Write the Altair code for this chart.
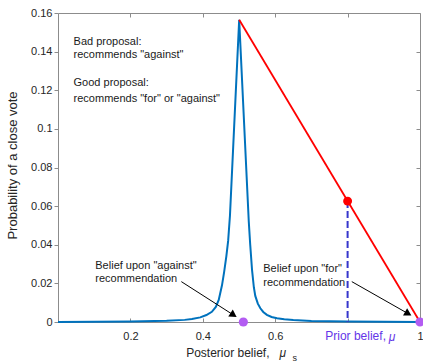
import altair as alt
import pandas as pd

# ---- data ----
mu_s = [0.0, 0.1, 0.2, 0.3, 0.35, 0.37, 0.393, 0.41, 0.425, 0.436, 0.444, 0.453,
        0.459, 0.465, 0.470, 0.475, 0.5005, 0.527, 0.531, 0.536, 0.541, 0.545,
        0.552, 0.559, 0.567, 0.577, 0.59, 0.605, 0.625, 0.65, 0.7, 0.8, 0.9, 1.0]
prob = [0.0, 0.0001, 0.0002, 0.0006, 0.0011, 0.0015, 0.0024, 0.0036, 0.0053, 0.0078,
        0.0114, 0.019, 0.026, 0.034, 0.042, 0.055, 0.1565, 0.052, 0.040, 0.027,
        0.018, 0.0135, 0.0095, 0.0071, 0.0052, 0.0037, 0.0026, 0.0019, 0.0014,
        0.001, 0.0005, 0.0002, 0.0001, 0.0]

red_mu = [0.5005, 1.0]
red_p = [0.1565, 0.0]

prior_mu = [0.8]
prior_p = [0.0626]

posterior_mu = [0.512, 1.0]
posterior_p = [0.0, 0.0]

x_label_vals = [0.2, 0.4, 0.6, 1.0]
x_tick_vals = [0.2, 0.4, 0.6, 0.8]
y_tick_vals = [0, 0.02, 0.04, 0.06, 0.08, 0.1, 0.12, 0.14, 0.16]

note_x = [0.043, 0.043, 0.043, 0.043, 0.103, 0.103, 0.567, 0.567]
note_y = [0.1451, 0.1383, 0.1236, 0.1153, 0.0290, 0.0223, 0.0274, 0.0204]
note_text = ["Bad proposal:", "recommends \"against\"", "Good proposal:",
             "recommends \"for\" or \"against\"", "Belief upon \"against\"",
             "recommendation", "Belief upon \"for\"", "recommendation"]

arrow_x = [0.3407, 0.8116]
arrow_y = [0.0209, 0.0209]
arrow_x2 = [0.485, 0.9675]
arrow_y2 = [0.0036, 0.0043]
arrow_angle = [32.6, 29.5]

FONT = "Liberation Sans"
AX = "#8c8c8c"
TXT = "#262626"

xs = alt.Scale(domain=[0, 1], nice=False, zero=False)
ys = alt.Scale(domain=[0, 0.16], nice=False, zero=False)

curve_df = pd.DataFrame({"mu": mu_s, "p": prob})
red_df = pd.DataFrame({"mu": red_mu, "p": red_p})
prior_df = pd.DataFrame({"mu": prior_mu, "p": prior_p, "p0": [0.0]})
post_df = pd.DataFrame({"mu": posterior_mu, "p": posterior_p})
note_df = pd.DataFrame({"x": note_x, "y": note_y, "t": note_text})
arrow_df = pd.DataFrame({"x": arrow_x, "y": arrow_y, "x2": arrow_x2, "y2": arrow_y2, "a": arrow_angle})

blue = alt.Chart(curve_df).mark_line(color="#0072BD", strokeWidth=2).encode(
    x=alt.X("mu:Q", scale=xs, axis=alt.Axis(
        orient="bottom", values=x_label_vals, format="~g", ticks=False, domain=False,
        grid=False, labelPadding=8, labelFont=FONT, labelFontSize=11, labelColor=TXT,
        labelFlush=False, title="Posterior belief,", titleFont=FONT, titleFontSize=12,
        titleFontWeight="normal", titleColor=TXT, titleAlign="right", titleX=211,
        titleY=30, titleBaseline="middle")),
    y=alt.Y("p:Q", scale=ys, axis=alt.Axis(
        orient="left", values=y_tick_vals, format="~g", tickSize=4, tickColor=AX,
        domain=False, grid=False, labelPadding=2, labelFont=FONT, labelFontSize=11,
        labelColor=TXT, labelFlush=False, title="Probability of a close vote",
        titleFont=FONT, titleFontSize=13, titleFontWeight="normal", titleColor=TXT,
        titleAngle=270, titleX=-46, titleY=152, titleAlign="center",
        titleBaseline="middle")),
)

red = alt.Chart(red_df).mark_line(color="#ff0000", strokeWidth=1.8).encode(
    x=alt.X("mu:Q", scale=xs, axis=alt.Axis(
        orient="bottom", offset=-4, values=x_tick_vals, tickSize=4, tickColor=AX,
        labels=False, domain=False, grid=False, title=None)),
    y=alt.Y("p:Q", scale=ys, axis=alt.Axis(
        orient="right", offset=-4, values=y_tick_vals, tickSize=4, tickColor=AX,
        labels=False, domain=False, grid=False, title=None)),
)

dashed = alt.Chart(prior_df).mark_rule(color="#3636cc", strokeWidth=2, strokeDash=[7, 3]).encode(
    x=alt.X("mu:Q", scale=xs, axis=alt.Axis(
        orient="top", offset=-4, values=x_tick_vals, tickSize=4, tickColor=AX,
        labels=False, domain=False, grid=False, title=None)),
    y=alt.Y("p:Q", scale=ys, axis=None),
    y2="p0:Q",
)

red_dot = alt.Chart(prior_df).mark_circle(color="#ff0000", size=80, opacity=1).encode(
    x=alt.X("mu:Q", scale=xs, axis=None),
    y=alt.Y("p:Q", scale=ys, axis=None),
)

arrows = alt.Chart(arrow_df).mark_rule(color="black", strokeWidth=1).encode(
    x=alt.X("x:Q", scale=xs, axis=None),
    y=alt.Y("y:Q", scale=ys, axis=None),
    x2="x2:Q", y2="y2:Q",
)
heads = alt.Chart(arrow_df).mark_point(shape="triangle-right", filled=True, color="black",
                                       size=70, opacity=1).encode(
    x=alt.X("x2:Q", scale=xs, axis=None),
    y=alt.Y("y2:Q", scale=ys, axis=None),
    angle=alt.Angle("a:Q", scale=None),
)

post_dots = alt.Chart(post_df).mark_circle(color="#b35cf2", size=85, opacity=1).encode(
    x=alt.X("mu:Q", scale=xs, axis=None),
    y=alt.Y("p:Q", scale=ys, axis=None),
)

notes = alt.Chart(note_df).mark_text(align="left", baseline="middle", font=FONT,
                                     fontSize=11, color="#1a1a1a").encode(
    x=alt.X("x:Q", scale=xs, axis=None),
    y=alt.Y("y:Q", scale=ys, axis=None),
    text="t:N",
)

# x-axis title symbol and "Prior belief" label (placed in data coordinates)
sym_df = pd.DataFrame({"x": [0.6207], "y": [-0.0158], "t": ["\u03bc"]})
sub_df = pd.DataFrame({"x": [0.6538], "y": [-0.0186], "t": ["s"]})
prior_lbl_df = pd.DataFrame({"x": [0.906], "y": [-0.0073], "t": ["Prior belief,"]})
prior_sym_df = pd.DataFrame({"x": [0.9228], "y": [-0.0079], "t": ["\u03bc"]})

sym = alt.Chart(sym_df).mark_text(font=FONT, fontSize=12, fontStyle="italic", color=TXT,
                                  baseline="middle").encode(
    x=alt.X("x:Q", scale=xs, axis=None), y=alt.Y("y:Q", scale=ys, axis=None), text="t:N")
sub = alt.Chart(sub_df).mark_text(font=FONT, fontSize=9, color=TXT, baseline="middle").encode(
    x=alt.X("x:Q", scale=xs, axis=None), y=alt.Y("y:Q", scale=ys, axis=None), text="t:N")
prior_lbl = alt.Chart(prior_lbl_df).mark_text(font=FONT, fontSize=12, color="#6435e8",
                                              align="right", baseline="middle").encode(
    x=alt.X("x:Q", scale=xs, axis=None), y=alt.Y("y:Q", scale=ys, axis=None), text="t:N")
prior_sym = alt.Chart(prior_sym_df).mark_text(font=FONT, fontSize=12, fontStyle="italic",
                                              color="#6435e8", baseline="middle").encode(
    x=alt.X("x:Q", scale=xs, axis=None), y=alt.Y("y:Q", scale=ys, axis=None), text="t:N")

chart = alt.layer(
    blue, red, dashed, red_dot, arrows, heads, post_dots, notes, sym, sub, prior_lbl, prior_sym
).resolve_axis(x="independent", y="independent").properties(
    width=362, height=309,
    autosize=alt.AutoSizeParams(type="none"),
    padding={"left": 58, "top": 13, "right": 3, "bottom": 42},
    background="white",
).configure_view(stroke=AX, strokeWidth=1)

chart.save("out.html", embed_options={"renderer": "svg", "actions": False})
